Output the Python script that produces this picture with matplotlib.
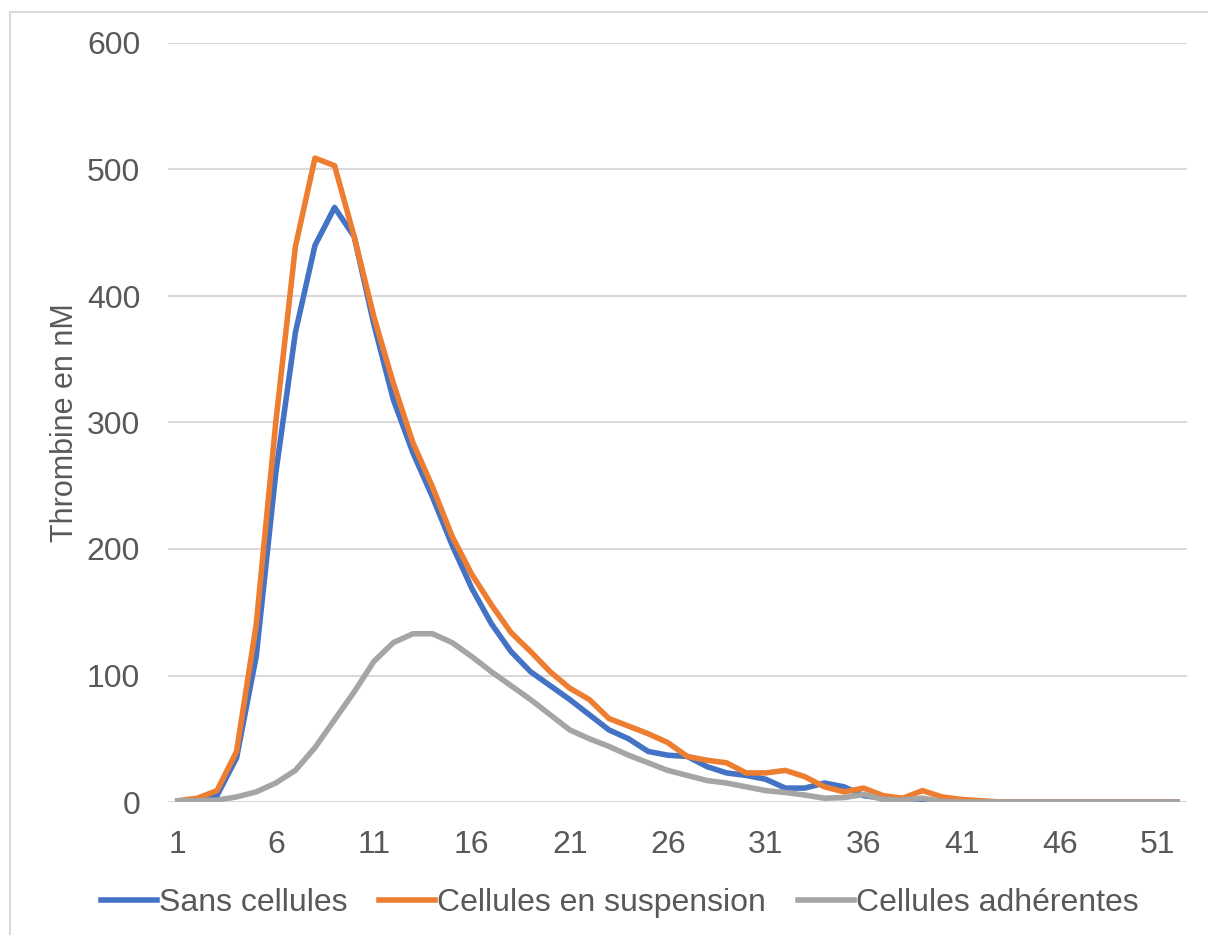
import numpy as np
import matplotlib
matplotlib.use('Agg')
from matplotlib import pyplot as plt
from matplotlib.patches import Rectangle

temps = np.arange(1, 53)
x_ticks = [1, 6, 11, 16, 21, 26, 31, 36, 41, 46, 51]
y_ticks = [0, 100, 200, 300, 400, 500, 600]

sans_cellules = [0, 0, 5, 35, 115, 260, 371, 440, 470, 447, 378, 318, 276, 241, 203,
                 169, 141, 119, 103, 92, 81, 69, 57, 50, 40, 37, 36, 28, 23, 21,
                 18, 11, 11, 15, 12, 5, 3, 0, 0, 0] + [0] * 12
cellules_suspension = [1, 3, 9, 40, 140, 300, 439, 509, 503, 447, 384, 331, 284, 249, 210,
                       180, 156, 134, 119, 103, 90, 81, 66, 60, 54, 47, 36, 33, 31, 23,
                       23, 25, 20, 12, 8, 11, 5, 3, 9, 4, 2, 1] + [0] * 10
cellules_adherentes = [1, 1, 1.5, 4, 8, 15, 25, 43, 65, 87, 111, 126, 133, 133, 126,
                       115, 103, 92, 81, 69, 57, 50, 44, 37, 31, 25, 21, 17, 15, 12,
                       9, 7.5, 5.5, 3, 3.5, 6, 2, 1.5, 3, 0.5] + [0] * 12

text_color = '#595959'
plt.rcParams['font.family'] = ['Liberation Sans', 'DejaVu Sans']

fig = plt.figure(figsize=(12.08, 9.35), dpi=100)
ax = fig.add_axes([168 / 1208, 1 - 802 / 935, (1187 - 168) / 1208, (802 - 43) / 935])

ax.plot(temps, sans_cellules, color='#4472C4', lw=4, label='Sans cellules', solid_joinstyle='round')
ax.plot(temps, cellules_suspension, color='#ED7D31', lw=4, label='Cellules en suspension', solid_joinstyle='round')
ax.plot(temps, cellules_adherentes, color='#A5A5A5', lw=4, label='Cellules adhérentes', solid_joinstyle='round')

ax.set_xlim(0.5, 52.5)
ax.set_ylim(0, 600)
ax.set_xticks(x_ticks)
ax.set_yticks(y_ticks)
ax.tick_params(axis='both', length=0, labelsize=23, colors=text_color)
ax.tick_params(axis='y', pad=20)
ax.tick_params(axis='x', pad=20)
ax.grid(axis='y', color='#d9d9d9', lw=1.5)
ax.set_axisbelow(True)
for s in ax.spines.values():
    s.set_visible(False)
ax.set_ylabel('Thrombine en nM', fontsize=22, color=text_color, labelpad=5)

fig.legend(loc='center', bbox_to_anchor=(0.513, 1 - 903 / 935), ncol=3, frameon=False,
           fontsize=23, labelcolor=text_color, handlelength=1.75, handletextpad=0.06,
           columnspacing=1.0)

fig.patches.append(Rectangle((10 / 1208, -0.1), 1.2, 1 - 12 / 935 + 0.1, transform=fig.transFigure,
                             fill=False, edgecolor='#d9d9d9', lw=1.5))

plt.savefig('out.png', dpi=100)
